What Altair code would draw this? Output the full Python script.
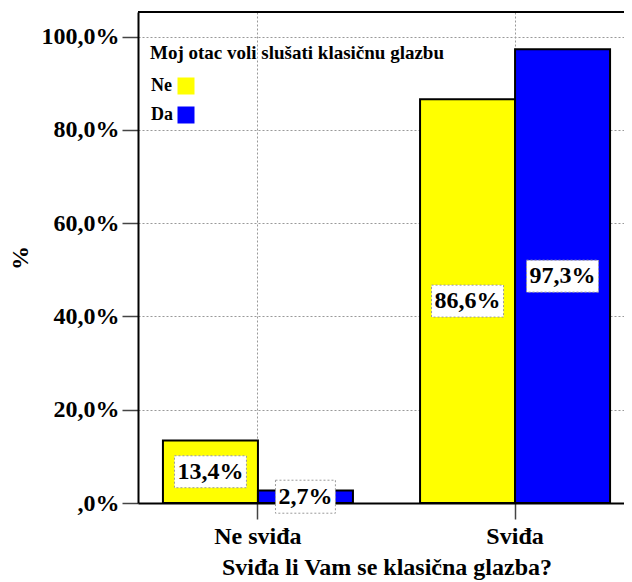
import altair as alt
import pandas as pd

categories = ["Ne sviđa", "Sviđa"]
groups = ["Ne", "Da"]
values_ne = [13.4, 86.6]
values_da = [2.7, 97.3]
colors = ["#FFFF00", "#0000FF"]
y_ticks = [0, 20, 40, 60, 80, 100]

rows = []
for i, c in enumerate(categories):
    rows.append({"category": c, "group": "Ne", "value": values_ne[i]})
    rows.append({"category": c, "group": "Da", "value": values_da[i]})
df = pd.DataFrame(rows)

FONT = "Liberation Serif"
W, H = 486, 491

base = alt.Chart(df).transform_calculate(
    mid="datum.value / 2",
    label="replace(format(datum.value, '.1f'), '.', ',') + '%'",
).transform_calculate(
    wide="length(datum.label) > 4 ? 'long' : 'short'"
)

x_scale = alt.Scale(range=[0, 497], paddingInner=0.261, paddingOuter=0.097, align=0.5)

x_enc = alt.X(
    "category:N",
    sort=categories,
    scale=x_scale,
    axis=alt.Axis(
        title="Sviđa li Vam se klasična glazba?",
        labelAngle=0,
        labelFont=FONT, labelFontSize=24, labelFontWeight="bold", labelColor="black",
        labelPadding=5,
        titleFont=FONT, titleFontSize=24, titleFontWeight="bold", titleColor="black",
        titlePadding=7,
        tickSize=16, tickColor="#444", tickWidth=1.5,
        domainColor="black", domainWidth=2,
        grid=True, gridColor="#999", gridDash=[2, 2], gridWidth=1,
    ),
)
xoff = alt.XOffset("group:N", sort=groups, scale=alt.Scale(paddingInner=0, paddingOuter=0))
y_scale = alt.Scale(domain=[0, 105.3], nice=False, zero=True)

bars = base.mark_bar(stroke="black", strokeWidth=2).encode(
    x=x_enc,
    xOffset=xoff,
    y=alt.Y(
        "value:Q",
        scale=y_scale,
        axis=alt.Axis(
            title="%",
            values=y_ticks,
            labelExpr="datum.value == 0 ? ',0%' : replace(format(datum.value, '.1f'), '.', ',') + '%'",
            labelFont=FONT, labelFontSize=24, labelFontWeight="bold", labelColor="black",
            labelPadding=3,
            titleFont=FONT, titleFontSize=24, titleFontWeight="bold", titleColor="black",
            titlePadding=9,
            tickSize=16, tickColor="#444", tickWidth=1.5,
            domainColor="black", domainWidth=2,
            grid=True, gridColor="#999", gridDash=[2, 2], gridWidth=1,
        ),
    ),
    color=alt.Color(
        "group:N",
        sort=groups,
        scale=alt.Scale(domain=groups, range=colors),
        legend=alt.Legend(
            title="Moj otac voli slušati klasičnu glazbu",
            titleLimit=600,
            orient="none", legendX=12, legendY=32,
            titleFont=FONT, titleFontSize=19, titleFontWeight="bold", titleColor="black",
            titlePadding=14,
            labelFont=FONT, labelFontSize=18, labelFontWeight="bold", labelColor="black",
            symbolType="square", symbolSize=289, symbolStrokeWidth=0,
            symbolOffset=27, labelOffset={"expr": "-44"}, rowPadding=11,
        ),
    ),
)

long_box = "M-0.973,-0.432H0.973V0.432H-0.973Z"
short_box = "M-0.81,-0.446H0.81V0.446H-0.81Z"

boxes = base.mark_point(
    filled=True, fill="white", stroke="#999", strokeDash=[2, 2], strokeWidth=1,
    opacity=1, size=5476,
).encode(
    x=alt.X("category:N", sort=categories),
    xOffset=xoff,
    y=alt.Y("mid:Q", scale=y_scale),
    shape=alt.Shape("wide:N", scale=alt.Scale(domain=["long", "short"], range=[long_box, short_box]), legend=None),
)

texts = base.mark_text(
    font=FONT, fontSize=24, fontWeight="bold", color="black", baseline="middle", align="center"
).encode(
    x=alt.X("category:N", sort=categories),
    xOffset=xoff,
    y=alt.Y("mid:Q", scale=y_scale),
    text="label:N",
)

top_line = alt.Chart(pd.DataFrame({"a": [0]})).mark_rule(color="black", strokeWidth=2).encode(
    x=alt.value(0), x2=alt.value(W), y=alt.value(0)
)

chart = alt.layer(bars, boxes, texts, top_line).properties(
    width=W, height=H,
    autosize=alt.AutoSizeParams(type="none"),
    padding={"left": 130, "top": 4, "right": 0, "bottom": 78},
).configure_view(stroke=None).configure(background="white")

chart.save("out.html", embed_options={"renderer": "svg", "actions": False})
